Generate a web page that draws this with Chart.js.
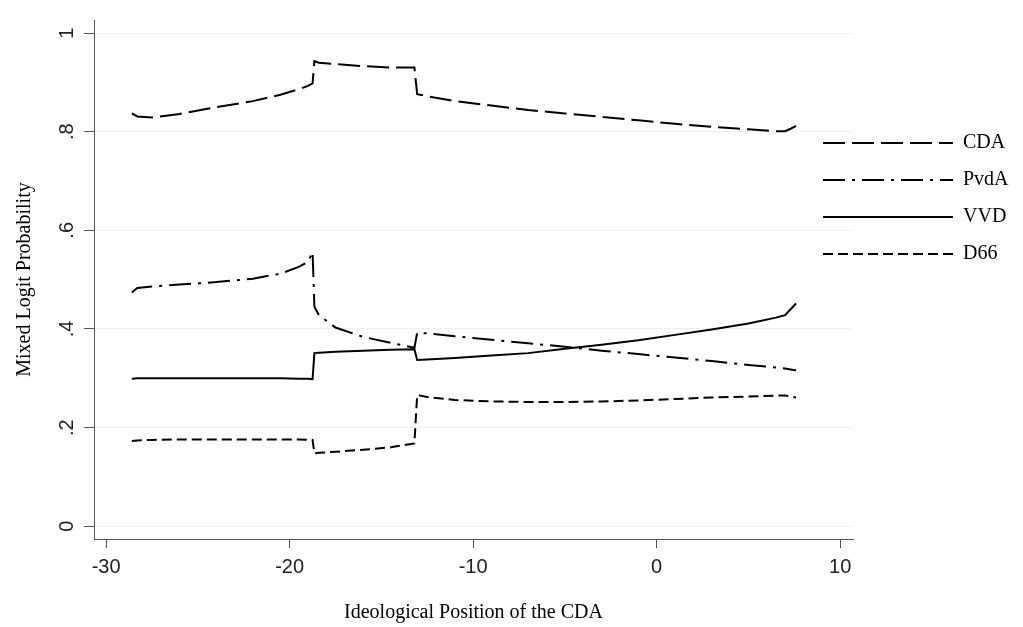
<!DOCTYPE html>
<html>
<head>
<meta charset="utf-8">
<script src="https://cdn.jsdelivr.net/npm/chart.js@4/dist/chart.umd.min.js"></script>
<style>
  html, body { margin: 0; padding: 0; background: #fff; }
  #wrap { width: 1023px; height: 627px; }
</style>
</head>
<body>
<div id="wrap"><canvas id="probChart" width="1023" height="627"></canvas></div>
<script>
// positions of the CDA (x) shared by all four curves
const xs = [-28.6, -28.3, -27.5, -26, -24, -22, -20.5, -19.5, -19.0, -18.75, -18.65, -18.4, -17.5, -16, -14.5, -13.2,
    -13.05, -12.5, -11, -9, -7, -5, -3, -1, 1, 3, 5, 6.5, 7.0, 7.3, 7.6];

const cdaValues = [0.837, 0.831, 0.829, 0.836, 0.850, 0.862, 0.875, 0.886, 0.893, 0.898, 0.943, 0.940, 0.937, 0.933, 0.930, 0.930,
    0.876, 0.872, 0.862, 0.853, 0.844, 0.837, 0.830, 0.823, 0.816, 0.810, 0.805, 0.801, 0.801, 0.806, 0.812];
const pvdaValues = [0.474, 0.483, 0.486, 0.490, 0.495, 0.502, 0.512, 0.526, 0.536, 0.556, 0.445, 0.428, 0.403, 0.384, 0.372, 0.362,
    0.392, 0.391, 0.385, 0.378, 0.371, 0.364, 0.356, 0.349, 0.342, 0.335, 0.327, 0.322, 0.320, 0.318, 0.316];
const vvdValues = [0.299, 0.300, 0.300, 0.300, 0.300, 0.300, 0.300, 0.299, 0.299, 0.298, 0.351, 0.352, 0.354, 0.356, 0.358, 0.359,
    0.337, 0.338, 0.341, 0.346, 0.351, 0.360, 0.368, 0.377, 0.388, 0.399, 0.411, 0.423, 0.428, 0.440, 0.452];
const d66Values = [0.173, 0.174, 0.175, 0.176, 0.176, 0.176, 0.176, 0.176, 0.175, 0.175, 0.148, 0.149, 0.151, 0.155, 0.160, 0.168,
    0.266, 0.262, 0.256, 0.253, 0.252, 0.252, 0.253, 0.255, 0.258, 0.261, 0.263, 0.265, 0.265, 0.263, 0.261];

const seriesNames = ['CDA', 'PvdA', 'VVD', 'D66'];
const xTicks = [-30, -20, -10, 0, 10];
const xTickLabels = ['-30', '-20', '-10', '0', '10'];
const yTicks = [0, 0.2, 0.4, 0.6, 0.8, 1];
const yTickLabels = ['0', '.2', '.4', '.6', '.8', '1'];

const dashes = [[22, 7], [22, 7, 3, 7], [], [10, 5]];
const allValues = [cdaValues, pvdaValues, vvdValues, d66Values];

function toPoints(vals) {
    return xs.map(function (x, i) { return { x: x, y: vals[i] }; });
}

const axisColor = '#555555';
const sans = "'Liberation Sans', Arial, sans-serif";
const serif = "'Liberation Serif', 'Times New Roman', serif";

// put the legend inside the plot region, like the original
const legendPlace = {
    id: 'legendPlace',
    afterLayout(chart) {
        const lg = chart.legend;
        lg.left = 806;
        lg.top = 116;
        lg.width = chart.width - lg.left;
        lg.right = chart.width;
    }
};

const ctx = document.getElementById('probChart').getContext('2d');
var chart = new Chart(ctx, {
    type: 'line',
    data: {
        datasets: seriesNames.map(function (name, i) {
            return {
                label: name,
                data: toPoints(allValues[i]),
                borderColor: '#000',
                backgroundColor: '#000',
                borderWidth: 2,
                borderDash: dashes[i],
                borderCapStyle: 'butt',
                pointRadius: 0,
                tension: 0,
                fill: false
            };
        })
    },
    options: {
        responsive: false,
        animation: false,
        layout: { padding: { top: 10, right: 0, bottom: 0, left: 0 } },
        plugins: {
            tooltip: { enabled: false },
            legend: {
                position: 'right',
                align: 'start',
                maxWidth: 170,
                labels: {
                    usePointStyle: true,
                    pointStyle: 'line',
                    pointStyleWidth: 130,
                    padding: 17,
                    color: '#000',
                    font: { family: serif, size: 20 },
                    generateLabels: function (chart) {
                        const items = Chart.defaults.plugins.legend.labels.generateLabels(chart);
                        items.forEach(function (item) {
                            item.lineDash = dashes[item.datasetIndex];
                            item.lineWidth = 2;
                            item.strokeStyle = '#000';
                        });
                        return items;
                    }
                }
            }
        },
        scales: {
            x: {
                type: 'linear',
                min: -30.66,
                max: 10.70,
                afterBuildTicks: function (scale) {
                    scale.ticks = xTicks.map(function (v) { return { value: v }; });
                },
                afterFit: function (scale) { scale.height = 88; },
                grid: { drawOnChartArea: false, tickLength: 9, tickColor: axisColor },
                border: { color: axisColor, width: 1 },
                ticks: {
                    padding: 7,
                    color: '#222',
                    font: { family: sans, size: 20 },
                    maxRotation: 0,
                    callback: function (v, i) { return xTickLabels[i]; }
                },
                title: {
                    display: true,
                    text: 'Ideological Position of the CDA',
                    color: '#000',
                    font: { family: serif, size: 20 },
                    padding: { top: 0, bottom: 2 }
                }
            },
            y: {
                type: 'linear',
                min: -0.0259,
                max: 1.0265,
                afterBuildTicks: function (scale) {
                    scale.ticks = yTicks.map(function (v) { return { value: v }; });
                },
                afterFit: function (scale) { scale.width = 94; },
                grid: { color: '#f0f0f0', lineWidth: 1, tickLength: 10, tickColor: axisColor },
                border: { color: axisColor, width: 1 },
                ticks: {
                    minRotation: 90,
                    maxRotation: 90,
                    crossAlign: 'center',
                    padding: 8,
                    color: '#222',
                    font: { family: sans, size: 20 },
                    callback: function (v, i) { return yTickLabels[i]; }
                },
                title: {
                    display: true,
                    text: 'Mixed Logit Probability',
                    color: '#000',
                    font: { family: serif, size: 20 },
                    padding: { top: 13, bottom: 0 }
                }
            }
        }
    },
    plugins: [legendPlace]
});
</script>
</body>
</html>
